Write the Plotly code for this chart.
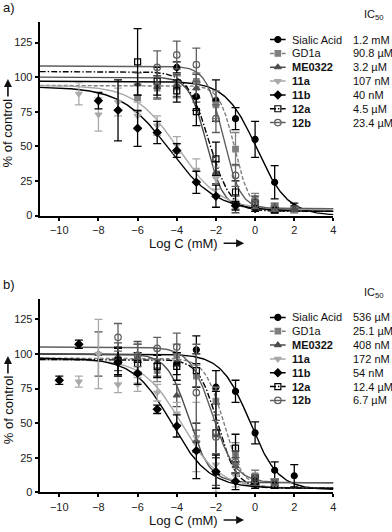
import numpy as np
import plotly.graph_objects as go

# ---------------- data ----------------
names = ["Sialic Acid", "GD1a", "ME0322", "11a", "11b", "12a", "12b"]
bold = [False, False, True, True, True, True, True]
ic50_a = ["1.2 mM", "90.8 µM", "3.2 µM", "107 nM", "40 nM", "4.5 µM", "23.4 µM"]
ic50_b = ["536 µM", "25.1 µM", "408 nM", "172 nM", "54 nM", "12.4 µM", "6.7 µM"]
x_ticks = [-10, -8, -6, -4, -2, 0, 2, 4]
y_ticks = [0, 25, 50, 75, 100, 125]

# fitted 4PL parameters: top, bottom, logIC50 (log mM), slope
top_a = [97, 94, 100, 94, 93, 104, 108]
bot_a = [0, 3, 5, 4, 3, 3, 5]
lic_a = [0.08, -1.04, -2.49, -3.97, -4.40, -2.35, -1.63]
slope_a = [0.55, 1.1, 1.0, 0.4, 0.36, 0.8, 1.0]

top_b = [100, 97, 100, 96, 97, 96, 105]
bot_b = [2, 3, 7, 3, 3, 3, 7]
lic_b = [-0.27, -1.60, -3.39, -3.76, -4.27, -1.91, -2.17]
slope_b = [0.6, 0.9, 0.8, 0.45, 0.45, 0.9, 0.75]

# measured points (log C in mM), mean, error
xa = [
    [-4, -3, -2, -1, 0, 1, 2],
    [-6, -5, -4, -3, -2, -1, 0, 1, 2],
    [-6, -5, -4, -3, -2, -1, 0, 1, 2],
    [-9, -8, -7, -6, -5, -4, -3, -2, -1, 0],
    [-8, -7, -6, -5, -4, -3, -2, -1, 0],
    [-6, -5, -4, -3, -2, -1, 0, 1],
    [-5, -4, -3, -2, -1, 0, 1],
]
ya = [
    [107, 86, 83, 70, 55, 24, 6],
    [85, 92, 93, 97, 80, 48, 12, 5, 4],
    [95, 93, 94, 92, 31, 8, 10, 6, 5],
    [88, 73, 82, 72, 65, 51, 33, 27, 10, 6],
    [83, 76, 63, 60, 47, 24, 14, 7, 5],
    [111, 97, 90, 75, 41, 17, 8, 4],
    [107, 116, 109, 70, 29, 8, 5],
]
ea = [
    [4, 10, 15, 8, 13, 12, 3],
    [10, 8, 8, 6, 10, 12, 4, 3, 2],
    [8, 8, 8, 10, 8, 6, 4, 3, 2],
    [8, 12, 10, 10, 7, 6, 8, 8, 5, 3],
    [6, 22, 13, 8, 5, 8, 8, 3, 2],
    [24, 10, 8, 10, 12, 8, 3, 2],
    [12, 10, 12, 10, 8, 3, 2],
]

xb = [
    [-4, -3, -2, -1, 0, 1, 2],
    [-6, -5, -4, -3, -2, -1, 0, 1],
    [-8, -7, -6, -5, -4, -3, -2, -1, 0, 1],
    [-9, -8, -7, -6, -5, -4, -3, -2, -1, 0],
    [-10, -9, -7, -6, -5, -4, -3, -2, -1, 0],
    [-7, -6, -5, -4, -3, -2, -1, 0, 1],
    [-7, -6, -5, -4, -3, -2, -1, 0, 1],
]
yb = [
    [93, 103, 76, 73, 43, 16, 12],
    [97, 88, 99, 84, 66, 28, 12, 7],
    [100, 98, 97, 94, 70, 37, 15, 19, 9, 7],
    [80, 100, 78, 78, 72, 57, 40, 20, 12, 9],
    [81, 107, 94, 86, 60, 48, 30, 15, 8, 6],
    [95, 93, 91, 91, 88, 43, 32, 8, 5],
    [112, 99, 104, 105, 72, 40, 22, 9, 7],
]
eb = [
    [8, 10, 12, 8, 8, 6, 8],
    [10, 8, 8, 8, 10, 8, 4, 3],
    [16, 10, 12, 10, 8, 8, 10, 6, 3, 2],
    [4, 25, 6, 5, 6, 8, 25, 20, 8, 4],
    [3, 3, 10, 8, 3, 8, 20, 12, 6, 3],
    [10, 8, 8, 10, 12, 30, 10, 3, 2],
    [10, 8, 8, 10, 35, 12, 8, 4, 2],
]

# ---------------- styles ----------------
colors = ["#000000", "#7f7f7f", "#4d4d4d", "#a9a9a9", "#000000", "#000000", "#5f5f5f"]
symbols = ["circle", "square", "triangle-up", "triangle-down", "diamond", "square-open", "circle-open"]
msizes = [6, 5.5, 6, 6, 6, 6, 6.5]
dashes = ["solid", "4px,2px", "solid", "solid", "solid", "6px,2px,1.5px,2px", "solid"]

W, H = 392, 532
FONT = "Liberation Sans, Arial, sans-serif"


def py(pix):
    return 1 - pix / H


def px(pix):
    return pix / W


fig = go.Figure()

xc = np.linspace(-11, 4, 300)


def add_panel(xs, ys, es, tops, bots, lics, slopes, xax, yax):
    for i in range(len(names)):
        curve = bots[i] + (tops[i] - bots[i]) / (1 + 10 ** (slopes[i] * (xc - lics[i])))
        fig.add_trace(go.Scatter(
            x=xc, y=curve, mode="lines", xaxis=xax, yaxis=yax,
            line=dict(color=colors[i], width=1.4, dash=dashes[i]),
            showlegend=False, hoverinfo="skip"))
    for i in range(len(names)):
        fig.add_trace(go.Scatter(
            x=xs[i], y=ys[i], mode="markers", xaxis=xax, yaxis=yax,
            marker=dict(color=colors[i], symbol=symbols[i], size=msizes[i],
                        line=dict(color=colors[i], width=1.2)),
            error_y=dict(type="data", array=es[i], color=colors[i], thickness=1.3, width=4),
            showlegend=False))


add_panel(xa, ya, ea, top_a, bot_a, lic_a, slope_a, "x", "y")
add_panel(xb, yb, eb, top_b, bot_b, lic_b, slope_b, "x2", "y2")


# legend symbols on helper axes
def add_legend(xax, yax):
    for i in range(len(names)):
        fig.add_trace(go.Scatter(
            x=[0, 1], y=[i, i], mode="lines", xaxis=xax, yaxis=yax,
            line=dict(color=colors[i], width=1.5, dash=dashes[i]),
            showlegend=False, hoverinfo="skip"))
        fig.add_trace(go.Scatter(
            x=[0.5], y=[i], mode="markers", xaxis=xax, yaxis=yax,
            marker=dict(color=colors[i], symbol=symbols[i], size=msizes[i],
                        line=dict(color=colors[i], width=1.2)),
            showlegend=False, hoverinfo="skip"))


add_legend("x3", "y3")
add_legend("x4", "y4")

ax_common = dict(
    showline=True, linecolor="black", linewidth=2, ticks="outside",
    ticklen=3, tickwidth=1.5, tickcolor="black", showgrid=False, zeroline=False,
    tickfont=dict(family=FONT, size=11, color="#222"),
)

xdom = [px(40), px(336)]
fig.update_layout(
    width=W, height=H, margin=dict(l=0, r=0, t=0, b=0),
    paper_bgcolor="white", plot_bgcolor="white",
    xaxis=dict(domain=xdom, range=[-11, 4], tickvals=x_ticks, anchor="y", **ax_common),
    yaxis=dict(domain=[py(218), py(22)], range=[0, 140], tickvals=y_ticks, anchor="x", **ax_common),
    xaxis2=dict(domain=xdom, range=[-11, 4], tickvals=x_ticks, anchor="y2", **ax_common),
    yaxis2=dict(domain=[py(498), py(302)], range=[0, 140], tickvals=y_ticks, anchor="x2", **ax_common),
    xaxis3=dict(domain=[px(272), px(288)], range=[0, 1], visible=False, anchor="y3"),
    yaxis3=dict(domain=[py(40 + 14 * 6.5), py(40 - 7)], range=[6.5, -0.5], visible=False, anchor="x3"),
    xaxis4=dict(domain=[px(272), px(288)], range=[0, 1], visible=False, anchor="y4"),
    yaxis4=dict(domain=[py(321 + 14 * 6.5), py(321 - 7)], range=[6.5, -0.5], visible=False, anchor="x4"),
)

TF = dict(family=FONT, size=13, color="#111")
LF = dict(family=FONT, size=11, color="#111")
ann = []
# panel labels
ann.append(dict(text="a)", x=px(1), y=py(8), xanchor="left", yanchor="middle", font=TF))
ann.append(dict(text="b)", x=px(1), y=py(288), xanchor="left", yanchor="middle", font=TF))
# axis titles with arrows
for off in (0, 280):
    ann.append(dict(text="Log C (mM)", x=px(185), y=py(246 + off), xanchor="center", yanchor="middle",
                    font=TF))
    ann.append(dict(text="", x=px(246), y=py(246 + off), ax=-22, ay=0, showarrow=True,
                    arrowhead=2, arrowsize=1, arrowwidth=1.6, arrowcolor="#111"))
    ann.append(dict(text="% of control", x=px(8), y=py(134 + off), xanchor="center", yanchor="middle",
                    textangle=-90, font=TF))
    ann.append(dict(text="", x=px(8), y=py(80 + off), ax=0, ay=19, showarrow=True,
                    arrowhead=2, arrowsize=1, arrowwidth=1.6, arrowcolor="#111"))
# legends
for y0, vals, hy in [(40, ic50_a, 15), (321, ic50_b, 296)]:
    ann.append(dict(text="IC<sub>50</sub>", x=px(365), y=py(hy), xanchor="left", yanchor="middle",
                    font=LF))
    for i, nm in enumerate(names):
        t = f"<b>{nm}</b>" if bold[i] else nm
        ann.append(dict(text=t, x=px(292), y=py(y0 + 14 * i), xanchor="left", yanchor="middle",
                        font=LF))
        ann.append(dict(text=vals[i], x=px(354), y=py(y0 + 14 * i), xanchor="left", yanchor="middle",
                        font=LF))

for a in ann:
    a.setdefault("showarrow", False)
    a.update(xref="paper", yref="paper")
fig.update_layout(annotations=ann)

fig.write_html("out.html", config={"displayModeBar": False},
               post_script="document.body.style.margin='0';")
